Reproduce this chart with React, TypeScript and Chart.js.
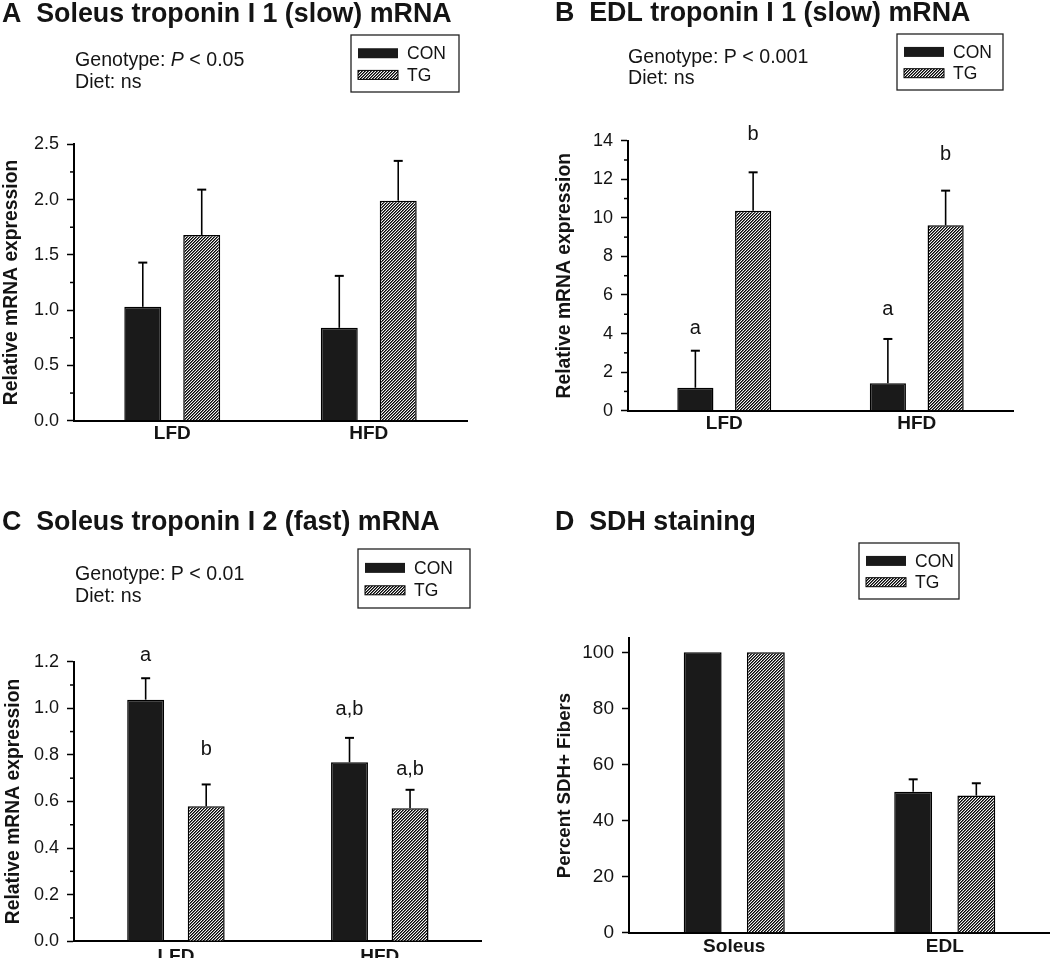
import React, { useEffect, useRef } from 'react';
import { Chart, registerables } from 'chart.js';

Chart.register(...registerables);

// ---------- DATA ----------
const dietCategories = ['LFD', 'HFD'];
const muscleCategories = ['Soleus', 'EDL'];
const seriesNames = ['CON', 'TG'];

// A: Soleus troponin I 1 (slow) mRNA
const aCon = [1.03, 0.84];
const aTg = [1.68, 1.99];
const aConSem = [0.4, 0.47];
const aTgSem = [0.41, 0.36];

// B: EDL troponin I 1 (slow) mRNA
const bCon = [1.19, 1.42];
const bTg = [10.37, 9.61];
const bConSem = [1.92, 2.3];
const bTgSem = [1.99, 1.8];
const bConLetters = ['a', 'a'];
const bTgLetters = ['b', 'b'];
const bConLetterAt = [4.27, 5.25];
const bTgLetterAt = [14.3, 13.3];

// C: Soleus troponin I 2 (fast) mRNA
const cCon = [1.037, 0.768];
const cTg = [0.579, 0.571];
const cConSem = [0.092, 0.105];
const cTgSem = [0.094, 0.079];
const cConLetters = ['a', 'a,b'];
const cTgLetters = ['b', 'a,b'];
const cConLetterAt = [1.228, 0.994];
const cTgLetterAt = [0.821, 0.738];

// D: SDH staining
const dCon = [100, 50.3];
const dTg = [100, 48.9];
const dConSem = [0, 4.4];
const dTgSem = [0, 4.4];

// ---------- STYLE / LAYOUT ----------
const FONT = '"Liberation Sans", Arial, Helvetica, sans-serif';
const INK = '#141414';
const W = 525;
const H = 480;

type Seg = { text: string; italic?: boolean };
type Panel = {
  x: number; y: number;
  title: string; titleX: number; titleBase: number;
  stats: Seg[][]; statsX: number; statsBase: number[];
  legend: { x: number; y: number; w: number; h: number };
  area: { left: number; right: number; top: number; bottom: number };
  labels: string[];
  con: number[]; tg: number[]; conSem: number[]; tgSem: number[];
  conLetters?: string[]; tgLetters?: string[]; conLetterAt?: number[]; tgLetterAt?: number[];
  yTitle: string; yTitleSize: number; yTitleCX: number;
  yMax: number; step: number; minor: boolean; decimals: number; tickSize: number;
  xPad: number; catPct: number; barPct: number;
};

const panels: Panel[] = [
  {
    x: 0, y: 0,
    title: 'A  Soleus troponin I 1 (slow) mRNA', titleX: 2, titleBase: 21.7,
    stats: [[{ text: 'Genotype: ' }, { text: 'P', italic: true }, { text: ' < 0.05' }], [{ text: 'Diet: ns' }]],
    statsX: 75, statsBase: [66, 88],
    legend: { x: 351, y: 35, w: 108, h: 57 },
    area: { left: 74, right: 467, top: 144.3, bottom: 420.7 },
    labels: dietCategories, con: aCon, tg: aTg, conSem: aConSem, tgSem: aTgSem,
    yTitle: 'Relative mRNA expression', yTitleSize: 19.3, yTitleCX: 12,
    yMax: 2.5, step: 0.5, minor: true, decimals: 1, tickSize: 18,
    xPad: 2, catPct: 0.6, barPct: 0.627,
  },
  {
    x: 525, y: 0,
    title: 'B  EDL troponin I 1 (slow) mRNA', titleX: 30, titleBase: 20.7,
    stats: [[{ text: 'Genotype: P < 0.001' }], [{ text: 'Diet: ns' }]],
    statsX: 103, statsBase: [63.3, 84.3],
    legend: { x: 372, y: 34, w: 106, h: 56 },
    area: { left: 103, right: 488, top: 140.7, bottom: 410.7 },
    labels: dietCategories, con: bCon, tg: bTg, conSem: bConSem, tgSem: bTgSem,
    conLetters: bConLetters, tgLetters: bTgLetters, conLetterAt: bConLetterAt, tgLetterAt: bTgLetterAt,
    yTitle: 'Relative mRNA expression', yTitleSize: 19.3, yTitleCX: 40,
    yMax: 14, step: 2, minor: true, decimals: 0, tickSize: 18,
    xPad: 2, catPct: 0.6, barPct: 0.626,
  },
  {
    x: 0, y: 480,
    title: 'C  Soleus troponin I 2 (fast) mRNA', titleX: 2, titleBase: 50,
    stats: [[{ text: 'Genotype: P < 0.01' }], [{ text: 'Diet: ns' }]],
    statsX: 75, statsBase: [100, 121.7],
    legend: { x: 358, y: 69, w: 112, h: 59 },
    area: { left: 74, right: 481.7, top: 181.7, bottom: 463.3 },
    labels: dietCategories, con: cCon, tg: cTg, conSem: cConSem, tgSem: cTgSem,
    conLetters: cConLetters, tgLetters: cTgLetters, conLetterAt: cConLetterAt, tgLetterAt: cTgLetterAt,
    yTitle: 'Relative mRNA expression', yTitleSize: 19.3, yTitleCX: 13.3,
    yMax: 1.2, step: 0.2, minor: true, decimals: 1, tickSize: 18,
    xPad: 4, catPct: 0.594, barPct: 0.61,
  },
  {
    x: 525, y: 480,
    title: 'D  SDH staining', titleX: 30, titleBase: 50,
    stats: [], statsX: 0, statsBase: [],
    legend: { x: 334, y: 63, w: 100, h: 56 },
    area: { left: 104, right: 525, top: 158.3, bottom: 452.7 },
    labels: muscleCategories, con: dCon, tg: dTg, conSem: dConSem, tgSem: dTgSem,
    yTitle: 'Percent SDH+ Fibers', yTitleSize: 18.7, yTitleCX: 40,
    yMax: 105, step: 20, minor: false, decimals: 0, tickSize: 19,
    xPad: 3, catPct: 0.6, barPct: 0.6,
  },
];

function makeHatch(): CanvasPattern | string {
  const c = document.createElement('canvas');
  c.width = 3;
  c.height = 3;
  const g = c.getContext('2d');
  if (!g) return '#777';
  const shades = ['#080808', '#5e5e5e', '#f4f4f4'];
  for (let x = 0; x < 3; x++) {
    for (let y = 0; y < 3; y++) {
      g.fillStyle = shades[(x + y) % 3];
      g.fillRect(x, y, 1, 1);
    }
  }
  const pat = g.createPattern(c, 'repeat');
  return pat || '#777';
}

function decorPlugin(p: Panel, hatch: CanvasPattern | string) {
  return {
    id: 'panelDecor',
    afterDatasetsDraw(chart: any) {
      const ctx: CanvasRenderingContext2D = chart.ctx;
      const ys = chart.scales.y;
      ctx.save();
      ctx.strokeStyle = '#000';
      const sets = [
        { vals: p.con, sem: p.conSem },
        { vals: p.tg, sem: p.tgSem },
      ];
      sets.forEach((s, di) => {
        const meta = chart.getDatasetMeta(di);
        meta.data.forEach((el: any, j: number) => {
          if (!s.sem[j]) return;
          const x = el.x;
          const y0 = el.y;
          const y1 = ys.getPixelForValue(s.vals[j] + s.sem[j]);
          ctx.lineWidth = 1.6;
          ctx.beginPath();
          ctx.moveTo(x, y0);
          ctx.lineTo(x, y1);
          ctx.stroke();
          ctx.lineWidth = 2;
          ctx.beginPath();
          ctx.moveTo(x - 4.5, y1);
          ctx.lineTo(x + 4.5, y1);
          ctx.stroke();
        });
      });
      ctx.restore();
    },
    afterDraw(chart: any) {
      const ctx: CanvasRenderingContext2D = chart.ctx;
      const ys = chart.scales.y;
      ctx.save();
      // minor ticks
      if (p.minor) {
        const t = ys.ticks;
        ctx.strokeStyle = '#000';
        ctx.lineWidth = 1.5;
        for (let i = 0; i < t.length - 1; i++) {
          const py = ys.getPixelForValue((t[i].value + t[i + 1].value) / 2);
          ctx.beginPath();
          ctx.moveTo(ys.right - 4, py);
          ctx.lineTo(ys.right, py);
          ctx.stroke();
        }
      }
      // title
      ctx.fillStyle = INK;
      ctx.textAlign = 'left';
      ctx.textBaseline = 'alphabetic';
      ctx.font = `bold 26.8px ${FONT}`;
      ctx.fillText(p.title, p.titleX, p.titleBase);
      // stats text
      p.stats.forEach((line, li) => {
        let x = p.statsX;
        line.forEach((seg) => {
          ctx.font = `${seg.italic ? 'italic ' : ''}19.6px ${FONT}`;
          ctx.fillText(seg.text, x, p.statsBase[li]);
          x += ctx.measureText(seg.text).width;
        });
      });
      // legend
      const L = p.legend;
      ctx.strokeStyle = '#222';
      ctx.lineWidth = 1.3;
      ctx.strokeRect(L.x, L.y, L.w, L.h);
      const rows = [L.y + 0.32 * L.h, L.y + 0.7 * L.h];
      rows.forEach((ry, i) => {
        const sx = L.x + 7;
        if (i === 0) {
          ctx.fillStyle = '#1a1a1a';
          ctx.fillRect(sx, ry - 5, 40, 10);
        } else {
          ctx.fillStyle = hatch as any;
          ctx.fillRect(sx, ry - 4.5, 40, 9);
          ctx.strokeStyle = '#000';
          ctx.lineWidth = 1;
          ctx.strokeRect(sx, ry - 4.5, 40, 9);
        }
        ctx.fillStyle = INK;
        ctx.font = `17.5px ${FONT}`;
        ctx.textBaseline = 'middle';
        ctx.fillText(seriesNames[i], L.x + 56, ry + 1);
      });
      // significance letters
      ctx.font = `20px ${FONT}`;
      ctx.textAlign = 'center';
      ctx.textBaseline = 'middle';
      ctx.fillStyle = INK;
      const letterSets = [
        { letters: p.conLetters, at: p.conLetterAt },
        { letters: p.tgLetters, at: p.tgLetterAt },
      ];
      letterSets.forEach((ls, di) => {
        if (!ls.letters || !ls.at) return;
        const meta = chart.getDatasetMeta(di);
        meta.data.forEach((el: any, j: number) => {
          ctx.fillText(ls.letters![j], el.x, ys.getPixelForValue(ls.at![j]));
        });
      });
      ctx.restore();
    },
  };
}

function makeChart(canvas: HTMLCanvasElement, p: Panel) {
  const hatch = makeHatch();
  const lh = p.yTitleSize * 1.2;
  const padL = p.yTitleCX - lh / 2;
  const xAxisH = Math.max(H - p.area.bottom, 0);
  return new Chart(canvas, {
    type: 'bar',
    data: {
      labels: p.labels,
      datasets: [
        {
          label: seriesNames[0], data: p.con, backgroundColor: '#1a1a1a', borderColor: '#000',
          borderWidth: 1.5, categoryPercentage: p.catPct, barPercentage: p.barPct,
        },
        {
          label: seriesNames[1], data: p.tg, backgroundColor: hatch as any, borderColor: '#000',
          borderWidth: 1.5, categoryPercentage: p.catPct, barPercentage: p.barPct,
        },
      ],
    },
    options: {
      responsive: false,
      animation: false,
      events: [],
      layout: {
        padding: { left: padL, top: p.area.top, right: W - p.area.right, bottom: 0 },
      },
      plugins: {
        legend: { display: false },
        tooltip: { enabled: false },
        title: { display: false },
      },
      scales: {
        x: {
          type: 'category',
          offset: true,
          grid: { display: false, drawTicks: false },
          border: { display: true, color: '#000', width: 2 },
          ticks: {
            color: INK, padding: p.xPad, maxRotation: 0, autoSkip: false,
            font: { family: FONT, size: 19, weight: 'bold' },
          },
          afterFit: (s: any) => { s.height = xAxisH; },
        },
        y: {
          type: 'linear',
          min: 0,
          max: p.yMax,
          grid: {
            display: true, drawOnChartArea: false, drawTicks: true,
            tickLength: 7, tickColor: '#000', tickWidth: 1.5,
          },
          border: { display: true, color: '#000', width: 2 },
          ticks: {
            stepSize: p.step, color: INK, padding: 8, includeBounds: false,
            font: { family: FONT, size: p.tickSize },
            callback: (v: any) => Number(v).toFixed(p.decimals),
          },
          title: {
            display: true, text: p.yTitle, color: INK,
            font: { family: FONT, size: p.yTitleSize, weight: 'bold' },
            padding: { top: 0, bottom: 0 },
          },
          afterBuildTicks: (s: any) => {
            s.ticks = s.ticks.filter((t: any) => Math.abs(t.value / p.step - Math.round(t.value / p.step)) < 1e-6);
          },
          afterFit: (s: any) => { s.width = p.area.left - padL; },
        },
      },
    } as any,
    plugins: [decorPlugin(p, hatch)],
  });
}

function PanelChart({ p }: { p: Panel }) {
  const ref = useRef<HTMLCanvasElement>(null);
  useEffect(() => {
    if (!ref.current) return;
    const chart = makeChart(ref.current, p);
    return () => chart.destroy();
  }, [p]);
  return (
    <canvas
      ref={ref}
      width={W}
      height={H}
      style={{ position: 'absolute', left: p.x, top: p.y, width: W, height: H }}
    />
  );
}

export default function App() {
  return (
    <div style={{ position: 'absolute', left: 0, top: 0, width: 1050, height: 960, background: '#fff', overflow: 'hidden' }}>
      {panels.map((p, i) => (
        <PanelChart key={i} p={p} />
      ))}
    </div>
  );
}
